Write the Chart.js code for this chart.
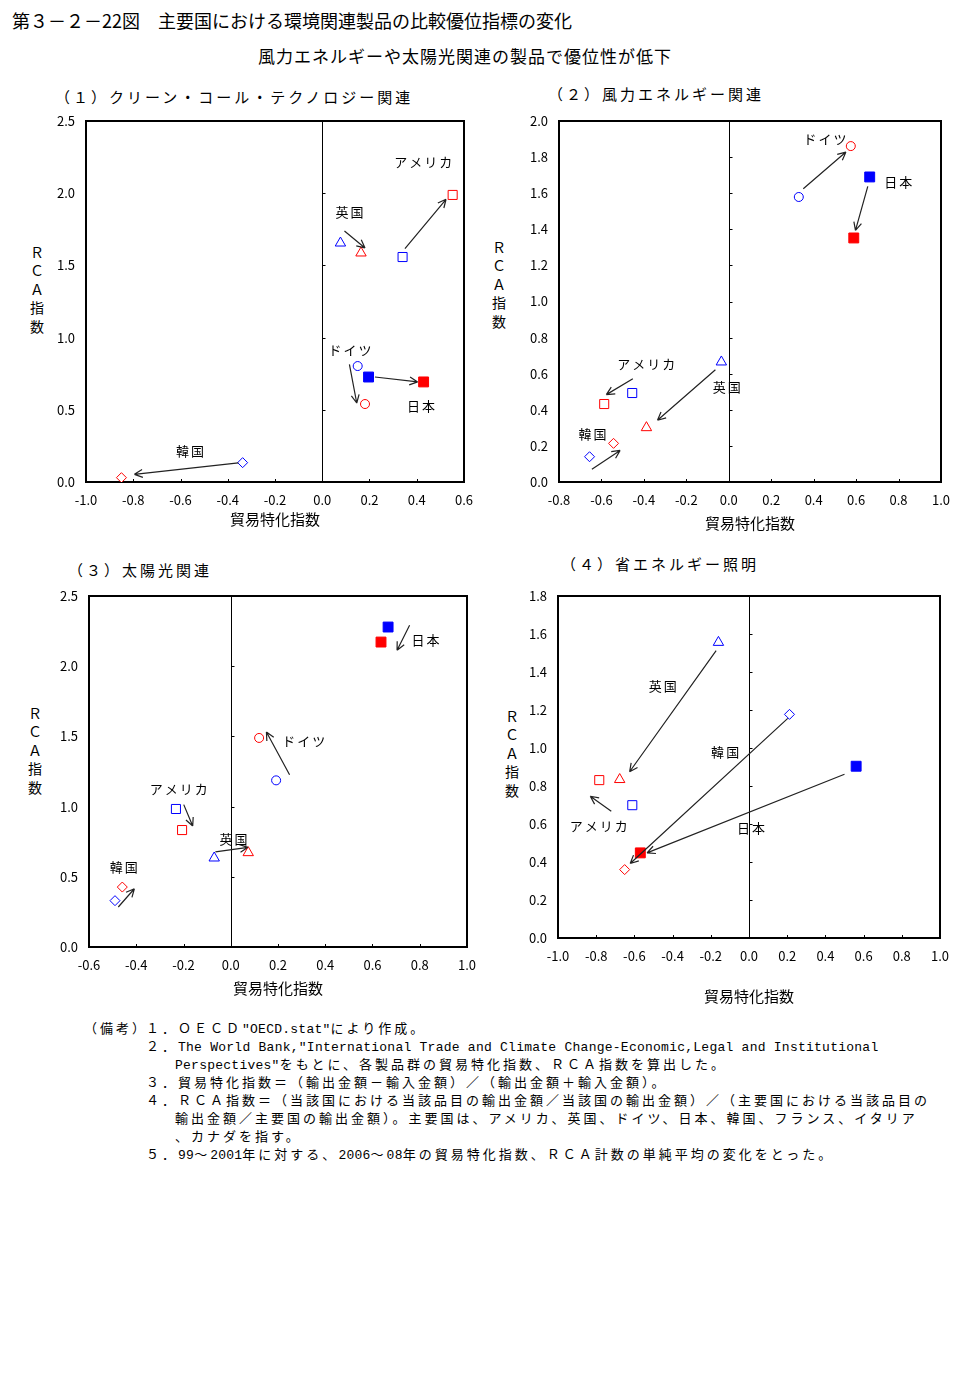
<!DOCTYPE html>
<html lang="ja">
<head>
<meta charset="utf-8">
<script src="https://cdn.jsdelivr.net/npm/chart.js@4.4.1/dist/chart.umd.min.js"></script>
<style>
  body { margin: 0; background: #fff; width: 979px; height: 1393px; position: relative; overflow: hidden;
         font-family: "Noto Sans CJK JP", sans-serif; color: #000; }
  .t { position: absolute; white-space: pre; line-height: 1; }
  .vt { position: absolute; writing-mode: vertical-rl; text-orientation: upright; font-size: 14px;
        letter-spacing: 4.3px; line-height: 1; }
  canvas { position: absolute; }
  .note { position: absolute; white-space: pre; font-size: 13px; line-height: 18px; height: 18px; }
  .cjk { font-family: "Noto Sans CJK JP", sans-serif; letter-spacing: 3px; }
  .lat { font-family: "Liberation Mono", monospace; letter-spacing: 0.25px; }
</style>
</head>
<body>
<div class="t" style="left:12px;top:11px;font-size:18px;">第３－２－22図　主要国における環境関連製品の比較優位指標の変化</div>
<div class="t" style="left:258px;top:47px;font-size:17px;letter-spacing:1px;">風力エネルギーや太陽光関連の製品で優位性が低下</div>

<div class="t" style="left:55px;top:89px;font-size:15px;letter-spacing:3px;">（１）クリーン・コール・テクノロジー関連</div>
<div class="t" style="left:548px;top:86px;font-size:15px;letter-spacing:3px;">（２）風力エネルギー関連</div>
<div class="t" style="left:68px;top:562px;font-size:15px;letter-spacing:3px;">（３）太陽光関連</div>
<div class="t" style="left:561px;top:556px;font-size:15px;letter-spacing:3px;">（４）省エネルギー照明</div>

<div class="vt" style="left:30px;top:246px;">ＲＣＡ指数</div>
<div class="vt" style="left:492px;top:241px;">ＲＣＡ指数</div>
<div class="vt" style="left:28px;top:707px;">ＲＣＡ指数</div>
<div class="vt" style="left:505px;top:710px;">ＲＣＡ指数</div>

<canvas id="coal" width="480" height="440" style="left:0px;top:100px;"></canvas>
<canvas id="wind" width="499" height="440" style="left:480px;top:100px;"></canvas>
<canvas id="solar" width="480" height="440" style="left:0px;top:575px;"></canvas>
<canvas id="light" width="499" height="440" style="left:480px;top:575px;"></canvas>

<div id="notes"></div>

<script>
// 国（99～2001年 → 2006～08年）
const countries = ['アメリカ', '英国', 'ドイツ', '日本', '韓国'];

// (1) クリーン・コール・テクノロジー関連
const coalX1 = [0.340, 0.077, 0.150, 0.196, -0.337];
const coalY1 = [1.558, 1.655, 0.803, 0.727, 0.134];
const coalX2 = [0.552, 0.164, 0.181, 0.429, -0.850];
const coalY2 = [1.988, 1.586, 0.540, 0.693, 0.030];
const coalArrows = [[0.350, 1.616, 0.524, 1.958], [0.094, 1.738, 0.181, 1.621], [0.115, 0.815, 0.146, 0.547],
                    [0.223, 0.727, 0.404, 0.693], [-0.355, 0.132, -0.795, 0.053]];
const coalLabels = [[0.428, 2.216], [0.115, 1.870], [0.117, 0.912], [0.418, 0.524], [-0.560, 0.215]];

// (2) 風力エネルギー関連
const windX1 = [-0.455, -0.035, 0.330, 0.664, -0.656];
const windY1 = [0.493, 0.665, 1.579, 1.690, 0.140];
const windX2 = [-0.587, -0.388, 0.575, 0.589, -0.543];
const windY2 = [0.432, 0.301, 1.861, 1.352, 0.214];
const windArrows = [[-0.452, 0.572, -0.577, 0.484], [-0.063, 0.622, -0.336, 0.342], [0.351, 1.625, 0.552, 1.828],
                    [0.655, 1.638, 0.597, 1.394], [-0.645, 0.070, -0.512, 0.175]];
const windLabels = [[-0.389, 0.652], [-0.010, 0.526], [0.453, 1.902], [0.798, 1.662], [-0.642, 0.268]];

// (3) 太陽光関連
const solarX1 = [-0.232, -0.070, 0.192, 0.666, -0.490];
const solarY1 = [0.983, 0.634, 1.187, 2.279, 0.330];
const solarX2 = [-0.206, 0.074, 0.120, 0.636, -0.459];
const solarY2 = [0.833, 0.672, 1.489, 2.172, 0.427];
const solarArrows = [[-0.199, 1.014, -0.161, 0.862], [-0.065, 0.677, 0.073, 0.710], [0.249, 1.227, 0.151, 1.531],
                     [0.757, 2.291, 0.704, 2.113], [-0.476, 0.285, -0.408, 0.415]];
const solarLabels = [[-0.220, 1.123], [0.012, 0.772], [0.309, 1.465], [0.824, 2.184], [-0.453, 0.570]];

// (4) 省エネルギー照明（ドイツなし）
const lightX1 = [-0.611, -0.160, null, 0.561, 0.212];
const lightY1 = [0.699, 1.556, null, 0.904, 1.177];
const lightX2 = [-0.784, -0.677, null, -0.569, -0.651];
const lightY2 = [0.831, 0.834, null, 0.448, 0.360];
const lightArrows = [[-0.721, 0.667, -0.831, 0.746], [-0.172, 1.512, -0.625, 0.875], null,
                     [0.500, 0.862, -0.534, 0.448], [0.203, 1.156, -0.622, 0.392]];
const lightLabels = [[-0.787, 0.588], [-0.452, 1.328], null, [0.011, 0.581], [-0.125, 0.976]];

const noteLines = [
  [146, 1028, '１．ＯＥＣＤ"OECD.stat"により作成。'],
  [146, 1046, '２．The World Bank,"International Trade and Climate Change-Economic,Legal and Institutional'],
  [175, 1064, 'Perspectives"をもとに、各製品群の貿易特化指数、ＲＣＡ指数を算出した。'],
  [146, 1082, '３．貿易特化指数＝（輸出金額－輸入金額）／（輸出金額＋輸入金額）。'],
  [146, 1100, '４．ＲＣＡ指数＝（当該国における当該品目の輸出金額／当該国の輸出金額）／（主要国における当該品目の'],
  [175, 1118, '輸出金額／主要国の輸出金額）。主要国は、アメリカ、英国、ドイツ、日本、韓国、フランス、イタリア'],
  [175, 1136, '、カナダを指す。'],
  [146, 1154, '５．99～2001年に対する、2006～08年の貿易特化指数、ＲＣＡ計数の単純平均の変化をとった。']
];

Chart.defaults.font.family = '"Noto Sans CJK JP", sans-serif';
Chart.defaults.color = '#000';

const shapes = ['rect', 'triangle', 'circle', 'rect', 'rectRot'];
const radii = [6.4, 6, 4.5, 7, 5];

function points(xs, ys) {
  return xs.map((x, i) => ({ x: x, y: ys[i] }));
}

function markerSet(xs, ys, color) {
  return {
    data: points(xs, ys),
    pointStyle: shapes,
    pointRadius: radii,
    pointBorderColor: color,
    pointBorderWidth: 1,
    pointBackgroundColor: countries.map((c, i) => i === 3 ? color : '#fff'),
    showLine: false
  };
}

const framePlugin = {
  id: 'frame',
  beforeDatasetsDraw(chart) {
    const ctx = chart.ctx, a = chart.chartArea;
    const xs = chart.scales.x, ys = chart.scales.y;
    const x0 = Math.round(xs.getPixelForValue(0)) + 0.5;
    ctx.save();
    ctx.strokeStyle = '#000';
    ctx.lineWidth = 1;
    ctx.beginPath();
    ctx.moveTo(x0, a.top);
    ctx.lineTo(x0, a.bottom);
    ys.ticks.forEach(t => {
      const py = Math.round(ys.getPixelForValue(t.value)) + 0.5;
      ctx.moveTo(x0, py);
      ctx.lineTo(x0 + 3, py);
    });
    xs.ticks.forEach(t => {
      const px = Math.round(xs.getPixelForValue(t.value)) + 0.5;
      ctx.moveTo(px, a.bottom);
      ctx.lineTo(px, a.bottom - 3);
    });
    ctx.stroke();
    ctx.lineWidth = 2;
    ctx.strokeRect(a.left, a.top, a.right - a.left, a.bottom - a.top);
    ctx.restore();
  },
  afterDatasetsDraw(chart, args, opts) {
    const ctx = chart.ctx;
    const xs = chart.scales.x, ys = chart.scales.y;
    ctx.save();
    ctx.strokeStyle = '#222';
    ctx.lineWidth = 1.2;
    opts.arrows.forEach(ar => {
      if (!ar) return;
      const x1 = xs.getPixelForValue(ar[0]), y1 = ys.getPixelForValue(ar[1]);
      const x2 = xs.getPixelForValue(ar[2]), y2 = ys.getPixelForValue(ar[3]);
      const ang = Math.atan2(y2 - y1, x2 - x1);
      ctx.beginPath();
      ctx.moveTo(x1, y1);
      ctx.lineTo(x2, y2);
      [0.45, -0.45].forEach(d => {
        ctx.moveTo(x2, y2);
        ctx.lineTo(x2 - 9 * Math.cos(ang + d), y2 - 9 * Math.sin(ang + d));
      });
      ctx.stroke();
    });
    ctx.fillStyle = '#000';
    ctx.font = '13px "Noto Sans CJK JP"';
    ctx.letterSpacing = '2px';
    ctx.textAlign = 'center';
    ctx.textBaseline = 'middle';
    opts.labels.forEach((lb, i) => {
      if (!lb) return;
      ctx.fillText(countries[i], xs.getPixelForValue(lb[0]) + 1, ys.getPixelForValue(lb[1]));
    });
    ctx.restore();
  }
};

function makePanel(id, box, xr, yr, old, now, arrows, labels, titlePad) {
  const canvas = document.getElementById(id);
  const W = canvas.width, H = canvas.height;
  return new Chart(canvas, {
    type: 'scatter',
    data: { datasets: [markerSet(old[0], old[1], '#0000ff'), markerSet(now[0], now[1], '#ff0000')] },
    options: {
      responsive: false,
      animation: false,
      devicePixelRatio: 1,
      events: [],
      layout: { padding: { top: box.plotT - box.top, right: box.left + W - box.plotR, bottom: 0, left: 0 } },
      plugins: {
        legend: { display: false },
        tooltip: { enabled: false },
        frame: { arrows: arrows, labels: labels }
      },
      scales: {
        x: {
          type: 'linear', min: xr[0], max: xr[1],
          grid: { display: false }, border: { display: false },
          ticks: { stepSize: 0.2, padding: 2, autoSkip: false, maxRotation: 0, font: { size: 13 },
                   callback: v => v.toFixed(1) },
          title: { display: true, text: '貿易特化指数', font: { size: 15 }, padding: { top: 0, bottom: titlePad } },
          afterFit: s => { s.height = box.top + H - box.plotB; }
        },
        y: {
          type: 'linear', min: yr[0], max: yr[1],
          grid: { display: false }, border: { display: false },
          ticks: { stepSize: yr[2], padding: 3, font: { size: 13 }, callback: v => v.toFixed(1) },
          afterFit: s => { s.width = box.plotL - box.left; }
        }
      }
    },
    plugins: [framePlugin]
  });
}

makePanel('coal', { left: 0, top: 100, plotL: 86, plotT: 121, plotR: 464, plotB: 482 },
  [-1.0, 0.6], [0, 2.5, 0.5], [coalX1, coalY1], [coalX2, coalY2], coalArrows, coalLabels, 12);
makePanel('wind', { left: 480, top: 100, plotL: 559, plotT: 121, plotR: 941, plotB: 482 },
  [-0.8, 1.0], [0, 2.0, 0.2], [windX1, windY1], [windX2, windY2], windArrows, windLabels, 8);
makePanel('solar', { left: 0, top: 575, plotL: 89, plotT: 596, plotR: 467, plotB: 947 },
  [-0.6, 1.0], [0, 2.5, 0.5], [solarX1, solarY1], [solarX2, solarY2], solarArrows, solarLabels, 18);
makePanel('light', { left: 480, top: 575, plotL: 558, plotT: 596, plotR: 940, plotB: 938 },
  [-1.0, 1.0], [0, 1.8, 0.2], [lightX1, lightY1], [lightX2, lightY2], lightArrows, lightLabels, 10);

// 備考
const notes = document.getElementById('notes');
function noteDiv(left, cy, text) {
  const d = document.createElement('div');
  d.className = 'note';
  d.style.left = left + 'px';
  d.style.top = (cy - 9) + 'px';
  text.split(/([\x20-\x7e]+)/).forEach(seg => {
    if (!seg) return;
    const s = document.createElement('span');
    s.textContent = seg;
    s.className = /^[\x20-\x7e]+$/.test(seg) ? 'lat' : 'cjk';
    d.appendChild(s);
  });
  notes.appendChild(d);
}
noteDiv(84, 1028, '（備考）');
noteLines.forEach(l => noteDiv(l[0], l[1], l[2]));
</script>
</body>
</html>
